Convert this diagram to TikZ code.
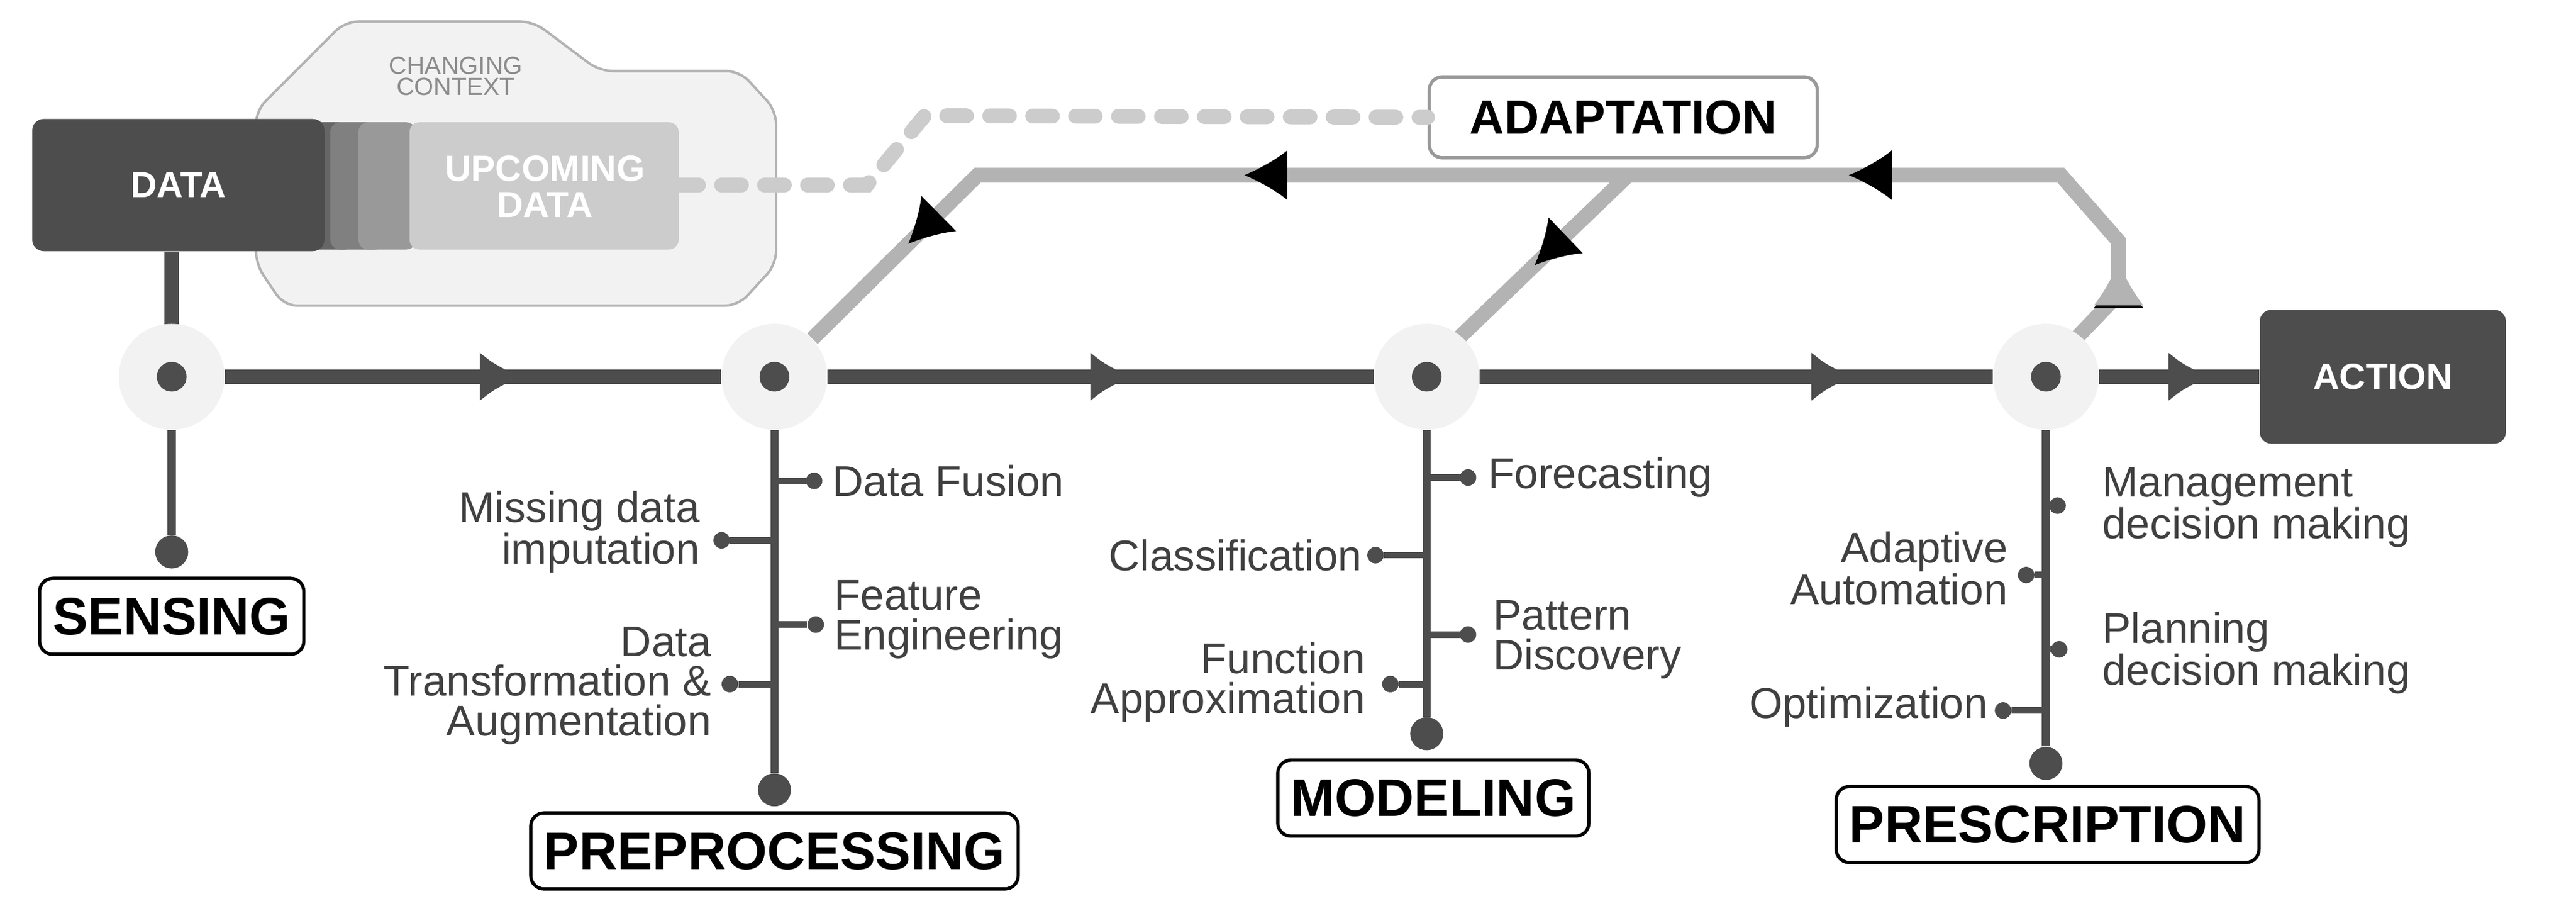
\documentclass[tikz,border=0pt]{standalone}
\usepackage{fontspec}
\setmainfont{Liberation Sans}
\usetikzlibrary{arrows.meta,decorations.markings,shapes.geometric}
\definecolor{dk}{HTML}{4D4D4D}
\definecolor{lg}{HTML}{B3B3B3}
\definecolor{lc}{HTML}{F2F2F2}
\definecolor{dsh}{HTML}{CCCCCC}
\definecolor{tx}{HTML}{404040}
\definecolor{s1}{HTML}{666666}
\definecolor{s2}{HTML}{808080}
\definecolor{s3}{HTML}{999999}
\tikzset{
 hub/.style={circle,fill=lc,minimum size=64pt,inner sep=0pt},
 hubdot/.style={circle,fill=dk,minimum size=18pt,inner sep=0pt},
 enddot/.style={circle,fill=dk,minimum size=20pt,inner sep=0pt},
 bdot/.style={circle,fill=dk,minimum size=10pt,inner sep=0pt},
 mainl/.style={draw=dk,line width=9pt},
 stem/.style={draw=dk,line width=5pt},
 branch/.style={draw=dk,line width=4pt},
 loopl/.style={draw=lg,line width=9pt,line join=miter},
 lbl/.style={draw=black,line width=2pt,rounded corners=8pt,fill=white,font=\bfseries\fontsize{32}{34}\selectfont,inner xsep=8pt,minimum height=46pt},
 itm/.style={text=tx,font=\fontsize{26}{24}\selectfont,inner sep=0pt},
 darkbox/.style={fill=dk,rounded corners=7pt,text=white,font=\bfseries\fontsize{22}{24}\selectfont},
 amark/.style={postaction={decorate},decoration={markings,mark=at position #1 with {\arrow{Latex[length=26pt,width=30pt]}}}},
}
\begin{document}
\begin{tikzpicture}[x=1pt,y=-1pt]
\useasboundingbox (0,0) rectangle (1560,548);
% changing context
\draw[fill=lc,draw=lg,line width=1.5pt,rounded corners=8pt]
 (209,13) -- (323,13) -- (363,43) -- (448,43) -- (470,67) -- (470,160) -- (447,185) -- (172,185) -- (155,160) -- (155,67) -- cycle;
\node[text=gray!90,font=\fontsize{15}{15}\selectfont,align=center] (cc) at (276,46) {CHANGING\\[-2pt]CONTEXT};
\fill[s1,rounded corners=6pt] (185,74) rectangle (215,151);
\fill[s2,rounded corners=6pt] (200,74) rectangle (233,151);
\fill[s3,rounded corners=6pt] (217,74) rectangle (252,151);
\fill[dsh,rounded corners=6pt] (248,74) rectangle (411,151);
\node[text=white,font=\bfseries\fontsize{22}{22}\selectfont,align=center] (up) at (330,113) {UPCOMING\\DATA};
\node[darkbox,minimum width=177pt,minimum height=80pt] (data) at (108,112) {DATA};
% adaptation label
\node[draw=gray!80,line width=2pt,rounded corners=8pt,fill=white,font=\bfseries\fontsize{29}{32}\selectfont,minimum width=235pt,minimum height=49pt] (adapt) at (983,71) {ADAPTATION};
\draw[dsh,line width=9pt,line cap=round,dash pattern=on 12pt off 14pt] (411,112) -- (525,112) -- (560,70) -- (adapt.west);
% hubs
\node[hub] (h1) at (104,228) {};
\node[hub] (h2) at (469,228) {};
\node[hub] (h3) at (864,228) {};
\node[hub] (h4) at (1239,228) {};
\node[darkbox,minimum width=149pt,minimum height=81pt] (act) at (1443,228) {ACTION};
% loop
\coordinate (tl) at (592,106);
\coordinate (tm) at (986,106);
\coordinate (tr) at (1248,106);
\coordinate (r1) at (1283,146);
\coordinate (r2) at (1283,178);
\coordinate (b4) at (1258,204);
\coordinate (b3) at (883,205);
\coordinate (b2) at (492,205);
\draw[loopl] (b4) -- (r2) -- (r1) -- (tr) -- (tl) -- (b2);
\draw[loopl] (tm) -- (b3);
\path[amark=0.55] (r2) -- (r1);
\path[amark=0.49] (tr) -- (tm);
\path[amark=0.59] (tm) -- (tl);
\path[amark=0.42] (tl) -- (b2);
\path[amark=0.55] (tm) -- (b3);
\begin{scope}[lg]
\path[amark=0.6,draw=lg,line width=0pt,draw opacity=0] (r2) -- (r1);
\end{scope}
% data link
\draw[stem,line width=9pt] (data.south -| h1) -- (h1.center);
\fill[lc] (h1) circle (32pt) (h2) circle (32pt) (h3) circle (32pt) (h4) circle (32pt);
% main line
\draw[mainl,amark=0.6] (h1.east) -- (h2.west);
\draw[mainl,amark=0.56] (h2.east) -- (h3.west);
\draw[mainl,amark=0.73] (h3.east) -- (h4.west);
\draw[mainl,amark=0.7] (h4.east) -- (act.west);
\foreach \h in {h1,h2,h3,h4} \node[hubdot] at (\h) {};
% stems
\node[enddot] (e1) at (104,334) {};
\node[enddot] (e2) at (469,478) {};
\node[enddot] (e3) at (864,444) {};
\node[enddot] (e4) at (1239,462) {};
\draw[stem] (h1.south) -- (e1);
\draw[stem] (h2.south) -- (e2);
\draw[stem] (h3.south) -- (e3);
\draw[stem] (h4.south) -- (e4);
\node[lbl] (l1) at (104,373) {SENSING};
\node[lbl] (l2) at (469,515) {PREPROCESSING};
\node[lbl] (l3) at (868,483) {MODELING};
\node[lbl] (l4) at (1240,499) {PRESCRIPTION};
% preprocessing branches
\node[bdot] (p1) at (493,291) {}; \draw[branch] (469,291) -- (p1);
\node[itm,anchor=west] at (504,291) {Data Fusion};
\node[bdot] (p2) at (437,327) {}; \draw[branch] (469,327) -- (p2);
\node[itm,anchor=east,align=right] at (424,322) {Missing data\\imputation};
\node[bdot] (p3) at (494,378) {}; \draw[branch] (469,378) -- (p3);
\node[itm,anchor=west,align=left] at (505,375) {Feature\\Engineering};
\node[bdot] (p4) at (442,414) {}; \draw[branch] (469,414) -- (p4);
\node[itm,anchor=east,align=right] at (431,415) {Data\\Transformation \&\\Augmentation};
% modeling branches
\node[bdot] (m1) at (889,289) {}; \draw[branch] (864,289) -- (m1);
\node[itm,anchor=west] at (901,289) {Forecasting};
\node[bdot] (m2) at (833,336) {}; \draw[branch] (864,336) -- (m2);
\node[itm,anchor=east] at (825,336) {Classification};
\node[bdot] (m3) at (889,384) {}; \draw[branch] (864,384) -- (m3);
\node[itm,anchor=west,align=left] at (904,387) {Pattern\\Discovery};
\node[bdot] (m4) at (842,414) {}; \draw[branch] (864,414) -- (m4);
\node[itm,anchor=east,align=right] at (827,413) {Function\\Approximation};
% prescription branches
\node[bdot] (r1d) at (1246,306) {}; \draw[branch] (1239,306) -- (r1d);
\node[itm,anchor=west,align=left] at (1273,307) {Management\\decision making};
\node[bdot] (r2d) at (1227,348) {}; \draw[branch] (1239,348) -- (r2d);
\node[itm,anchor=east,align=right] at (1216,344) {Adaptive\\Automation};
\node[bdot] (r3d) at (1247,393) {}; \draw[branch] (1239,393) -- (r3d);
\node[itm,anchor=west,align=left] at (1273,395) {Planning\\decision making};
\node[bdot] (r4d) at (1213,430) {}; \draw[branch] (1239,430) -- (r4d);
\node[itm,anchor=east] at (1204,428) {Optimization};
\end{tikzpicture}
\end{document}
